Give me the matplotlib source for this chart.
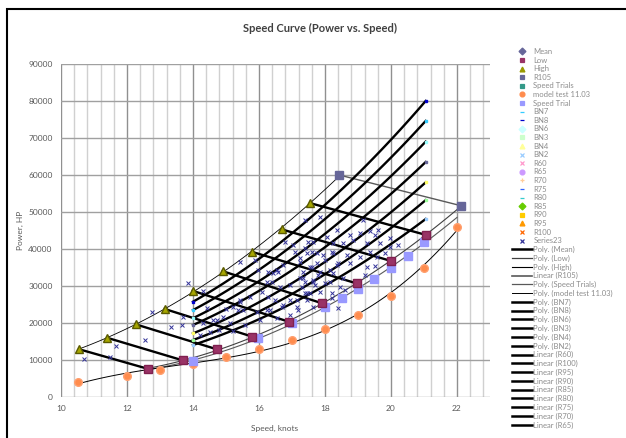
import numpy as np
import matplotlib
matplotlib.use("Agg")
import matplotlib.pyplot as plt
from matplotlib.lines import Line2D
from matplotlib.patches import Rectangle

plt.rcParams['font.family'] = ['Lato', 'DejaVu Sans']

# ---- data ----
high_x = [10.55, 11.40, 12.26, 13.14, 13.99, 14.90, 15.80, 16.69, 17.55, 18.43]
high_y = [12900, 16000, 19650, 23800, 28700, 34000, 39200, 45300, 52400, 60000]

low_x = [12.65, 13.69, 14.72, 15.80, 16.90, 17.92, 18.96, 19.99, 21.06, 22.12]
low_y = [7570, 9900, 12900, 16300, 20350, 25300, 30700, 36800, 43800, 51700]

trial_x = [13.99, 15.98, 16.99, 18.0, 18.5, 19.0, 19.48, 19.99, 20.5, 21.0]
trial_y = [9820, 16000, 19900, 24200, 26800, 29200, 31900, 35000, 38200, 41800]

model_x = [10.5, 12.0, 13.0, 14.0, 15.0, 16.0, 17.0, 18.0, 19.0, 20.0, 21.0, 22.0]
model_y = [4140, 5760, 7300, 8920, 10900, 12970, 15400, 18400, 22100, 27400, 34900, 46000]

# engine load curves (Mean + BN) at 14, 17.5 and 21 knots
bn_x = [14.0, 17.5, 21.05]
bn_names = ["BN8", "BN7", "BN6", "Mean", "BN4", "BN3", "BN2"]
bn_y = [
    [25750, 48000, 80000],
    [23500, 44400, 74600],
    [21300, 40650, 69000],
    [19460, 37300, 63500],
    [17200, 33560, 58000],
    [15400, 30450, 53200],
    [14050, 27650, 48100],
]
bn_colors = ["#0000cc", "#33ccff", "#99ffff", "#666699", "#ffff66", "#99ff99", "#99ccff"]

series23_x = [10.71, 11.48, 11.67, 12.55, 12.75, 13.33, 13.66, 13.71, 13.84, 14.31,
              14.21, 14.42, 14.72, 15.0, 15.42, 15.88, 15.42, 15.37, 16.23, 16.43,
              16.58, 16.79, 17.09, 17.24, 17.6, 17.55, 16.03, 16.33, 16.69, 16.94,
              17.14, 17.29, 17.44, 17.65, 17.24, 17.39, 17.85, 18.35, 18.76, 19.16,
              19.36, 19.52, 19.62, 19.97, 19.67, 19.26, 19.06, 18.86, 18.55, 18.25,
              18.05, 17.65, 17.39, 17.75, 18.2, 18.66, 19.06, 19.36, 19.57, 19.82,
              19.97, 19.26, 18.76, 18.4, 18.0, 17.6, 17.34, 17.85, 18.25, 18.55,
              19.0, 18.15, 17.7, 17.39, 18.45, 18.2, 17.85, 17.55, 17.45, 18.4,
              18.2, 17.65, 15.98, 16.28, 16.54, 16.74, 16.94, 16.38, 16.64, 16.08,
              16.28, 16.48, 15.73, 15.42, 15.22, 15.52, 15.93, 16.23, 16.74, 17.14,
              17.39, 17.19, 16.94, 16.54, 14.92, 14.62, 14.31, 15.12, 15.58, 17.34,
              17.65, 17.8, 18.0, 18.15, 18.35, 17.49, 17.04, 17.45, 17.24, 17.75,
              17.95, 18.25, 18.6, 19.2, 19.5, 20.2, 14.5, 14.8, 15.2]
series23_y = [10200, 10700, 13900, 15400, 23050, 18800, 19450, 21700, 30700, 28650,
              16750, 24000, 20800, 23800, 36600, 37000, 25800, 23500, 31200, 33400,
              33900, 42000, 39300, 37500, 39300, 35200, 20800, 23500, 24400, 26200,
              24400, 29800, 28000, 31200, 32100, 47800, 48700, 45100, 43800, 47800,
              44900, 43800, 45100, 42900, 41500, 41500, 44200, 42400, 41500, 41500,
              43300, 42000, 40200, 38800, 39300, 38400, 37900, 39300, 37900, 38800,
              40600, 35200, 36100, 36100, 37000, 35200, 33900, 33900, 33400, 32100,
              31200, 31200, 30300, 31200, 29800, 28000, 28500, 28000, 26200, 24000,
              26700, 24400, 34300, 33900, 34300, 35700, 30300, 31200, 29800, 28500,
              27100, 26200, 27100, 26200, 24400, 23500, 23100, 23500, 24900, 26200,
              28000, 23500, 22200, 21300, 21700, 20800, 19900, 19900, 19500, 32100,
              31600, 33000, 30700, 34300, 35700, 42000, 41100, 38800, 36600, 36100,
              38400, 38800, 29000, 33000, 35500, 41000, 17500, 18200, 17800]

# ---- figure ----
fig = plt.figure(figsize=(6.26, 4.38), dpi=100)
ax = fig.add_axes([61 / 626, 1 - 397 / 438, (490 - 61) / 626, (397 - 64) / 438])

ax.set_xlim(10, 23)
ax.set_ylim(0, 90000)
ax.set_xticks(np.arange(10, 23, 2))
ax.set_xticks(np.arange(10, 23.01, 0.4), minor=True)
ax.set_yticks(np.arange(0, 90001, 10000))
ax.grid(True, which='minor', axis='x', color='#d0d0d0', lw=1.0)
ax.grid(True, which='major', axis='x', color='#909090', lw=1.0)
ax.grid(True, which='major', axis='y', color='#a0a0a0', lw=1.0)
ax.set_axisbelow(True)
for s in ax.spines.values():
    s.set_visible(False)
ax.tick_params(axis='both', which='both', length=0, labelsize=6, labelcolor='#595959', pad=6)

# thin trend curves
xs = np.linspace(min(high_x), max(high_x), 100)
ax.plot(xs, np.polyval(np.polyfit(high_x, high_y, 2), xs), color='black', lw=0.6)
xs = np.linspace(min(low_x), max(low_x), 100)
ax.plot(xs, np.polyval(np.polyfit(low_x, low_y, 2), xs), color='#404040', lw=0.8)
xs = np.linspace(min(low_x), 22.0, 100)
ax.plot(xs, np.polyval(np.polyfit(trial_x, trial_y, 2), xs), color='#595959', lw=0.8)
xs = np.linspace(min(model_x), max(model_x), 100)
ax.plot(xs, np.polyval(np.polyfit(model_x, model_y, 3), xs), color='black', lw=0.7)

# constant rpm lines (High -> Low)
for i in range(len(high_x)):
    if i == len(high_x) - 1:
        ax.plot([high_x[i], low_x[i]], [high_y[i], low_y[i]], color='#595959', lw=1.0)
    else:
        ax.plot([high_x[i], low_x[i]], [high_y[i], low_y[i]], color='black', lw=1.7)

# load curves
xs = np.linspace(bn_x[0], bn_x[-1], 100)
for ys, c in zip(bn_y, bn_colors):
    ax.plot(xs, np.polyval(np.polyfit(bn_x, ys, 2), xs), color='black', lw=1.7)
    ax.plot([bn_x[0], bn_x[-1]], [ys[0], ys[-1]], ls='none', marker='s', ms=2, color=c)

ax.plot(series23_x, series23_y, ls='none', marker='x', ms=3, mew=0.7, color='#333399')
ax.plot(model_x, model_y, ls='none', marker='o', ms=5.5, mfc='#ff8c4d', mec='#ffa070')
ax.plot(trial_x, trial_y, ls='none', marker='s', ms=5.5, color='#9999ff')
ax.plot(low_x[:-1], low_y[:-1], ls='none', marker='s', ms=5.5, mfc='#993366', mec='#802050')
ax.plot(high_x[:-1], high_y[:-1], ls='none', marker='^', ms=6, mfc='#a6a600', mec='#5a5a00')
ax.plot([high_x[-1], low_x[-1]], [high_y[-1], low_y[-1]], ls='none', marker='s', ms=6,
        color='#666699')

fig.text(320 / 626, 1 - 28 / 438, "Speed Curve (Power vs. Speed)", fontsize=8,
         fontweight='bold', color='#404040', ha='center', va='center')
fig.text(275 / 626, 1 - 428 / 438, "Speed, knots", fontsize=6, color='#595959',
         ha='center', va='center')
fig.text(20 / 626, 1 - 230 / 438, "Power, HP", fontsize=6, color='#595959',
         ha='center', va='center', rotation=90)

# ---- legend ----
mk = [
    ("Mean", 'D', '#666699'), ("Low", 's', '#993366'), ("High", '^', '#999900'),
    ("R105", 's', '#666699'), ("Speed Trials", 's', '#339988'),
    ("model test 11.03", 'o', '#ff8c4d'), ("Speed Trial", 's', '#9999ff'),
    ("BN7", '_', '#33ccff'), ("BN8", '_', '#0000cc'), ("BN6", 'D', '#ccffff'),
    ("BN3", 's', '#ccffcc'), ("BN4", '^', '#ffff99'), ("BN2", 'x', '#99ccff'),
    ("R60", 'x', '#ff99cc'), ("R65", 'o', '#cc99ff'), ("R70", '+', '#ffcc99'),
    ("R75", '_', '#3366ff'), ("R80", '_', '#33cccc'), ("R85", 'D', '#66cc00'),
    ("R90", 's', '#ffcc00'), ("R95", '^', '#ff9900'), ("R100", 'x', '#ff6600'),
    ("Series23", 'x', '#333399'),
]
ln = [
    ("Poly. (Mean)", 'black', 1.8), ("Poly. (Low)", '#404040', 0.9),
    ("Poly. (High)", 'black', 0.8), ("Linear (R105)", '#595959', 1.2),
    ("Poly. (Speed Trials)", '#595959', 0.9), ("Poly. (model test 11.03)", 'black', 0.7),
    ("Poly. (BN7)", 'black', 1.8), ("Poly. (BN8)", 'black', 1.8),
    ("Poly. (BN6)", 'black', 1.8), ("Poly. (BN3)", 'black', 1.8),
    ("Poly. (BN4)", 'black', 1.8), ("Poly. (BN2)", 'black', 1.8),
    ("Linear (R60)", 'black', 1.8), ("Linear (R100)", 'black', 1.8),
    ("Linear (R95)", 'black', 1.8), ("Linear (R90)", 'black', 1.8),
    ("Linear (R85)", 'black', 1.8), ("Linear (R80)", 'black', 1.8),
    ("Linear (R75)", 'black', 1.8), ("Linear (R70)", 'black', 1.8),
    ("Linear (R65)", 'black', 1.8),
]
handles = [Line2D([], [], ls='none', marker=m, ms=3.5, mew=0.9, color=c) for _, m, c in mk]
handles += [Line2D([], [], color=c, lw=w) for _, c, w in ln]
labels = [n for n, _, _ in mk] + [n for n, _, _ in ln]
fig.legend(handles, labels, loc='upper left', bbox_to_anchor=(512 / 626, 1 - 48 / 438),
           frameon=False, fontsize=5.5, labelcolor='#8c8c8c', handlelength=2.6,
           handletextpad=0.2, labelspacing=0.21, borderpad=0, borderaxespad=0)

# outer chart border
fig.patches.append(Rectangle((7 / 626, -0.1), 1.2, 1 - 9 / 438 + 0.1,
                             transform=fig.transFigure, fill=False, ec='black', lw=1.5))

fig.savefig("out.png", dpi=100)
